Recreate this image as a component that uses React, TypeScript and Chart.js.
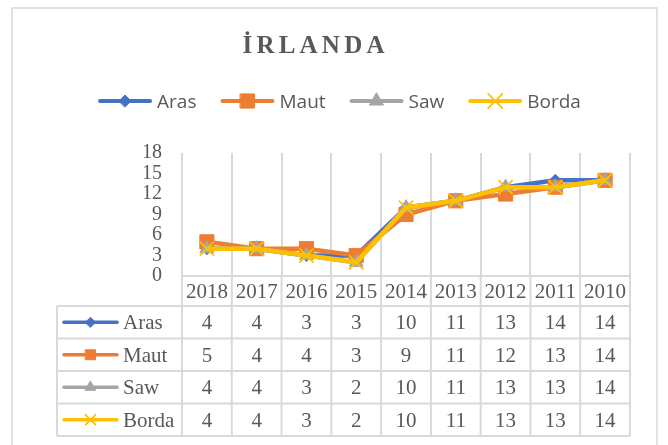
import React, { useEffect, useRef } from 'react';
import { Chart, registerables } from 'chart.js';
import { drawPoint } from 'chart.js/helpers';

Chart.register(...registerables);

const chartTitle = 'İRLANDA';
const years = ['2018', '2017', '2016', '2015', '2014', '2013', '2012', '2011', '2010'];
const seriesNames = ['Aras', 'Maut', 'Saw', 'Borda'];
const aras = [4, 4, 3, 3, 10, 11, 13, 14, 14];
const maut = [5, 4, 4, 3, 9, 11, 12, 13, 14];
const saw = [4, 4, 3, 2, 10, 11, 13, 13, 14];
const borda = [4, 4, 3, 2, 10, 11, 13, 13, 14];
const seriesValues = [aras, maut, saw, borda];
const yTicks = [0, 3, 6, 9, 12, 15, 18];

const colors = ['#4472C4', '#ED7D31', '#A5A5A5', '#FFC000'];
const pointStyles = ['rectRot', 'rect', 'triangle', 'crossRot'];
const plotRadius = [6, 10, 8, 10];
const legendRadius = [6, 10, 8, 10];
const tableRadius = [5, 7, 6, 7];

const TEXT = '#595959';
const GRID = '#D9D9D9';
const SERIF = '"Liberation Serif", "Times New Roman", serif';
const SANS = '"Open Sans", "Liberation Sans", sans-serif';

function marker(ctx: CanvasRenderingContext2D, i: number, r: number, x: number, y: number) {
  ctx.save();
  ctx.fillStyle = colors[i];
  ctx.strokeStyle = colors[i];
  ctx.lineWidth = pointStyles[i] === 'crossRot' ? 1.75 : 1;
  drawPoint(ctx, { pointStyle: pointStyles[i] as any, radius: r, rotation: 0, borderWidth: ctx.lineWidth } as any, x, y);
  ctx.restore();
}

const decorPlugin = {
  id: 'decor',
  beforeDraw(chart: any) {
    const ctx: CanvasRenderingContext2D = chart.ctx;
    ctx.save();
    ctx.fillStyle = '#FFFFFF';
    ctx.fillRect(0, 0, chart.width, chart.height);
    ctx.strokeStyle = GRID;
    ctx.lineWidth = 1.5;
    ctx.strokeRect(12, 8, 645, 460);
    ctx.restore();
  },
  afterDraw(chart: any) {
    const ctx: CanvasRenderingContext2D = chart.ctx;
    const area = chart.chartArea;
    const xs = chart.scales.x;
    ctx.save();

    // Title with letter spacing
    ctx.font = 'bold 25px ' + SERIF;
    ctx.fillStyle = TEXT;
    ctx.textBaseline = 'alphabetic';
    ctx.textAlign = 'left';
    const spacing = 4.2;
    const chars = Array.from(chartTitle);
    const widths = chars.map((c) => ctx.measureText(c).width);
    const total = widths.reduce((a, b) => a + b, 0) + spacing * (chars.length - 1);
    let tx = 313.5 - total / 2;
    chars.forEach((c, k) => {
      ctx.fillText(c, tx, 53);
      tx += widths[k] + spacing;
    });

    // Legend
    ctx.font = '19px ' + SANS;
    const keyLen = 54;
    const textGap = 5;
    const itemGap = 24;
    const tw = seriesNames.map((n) => ctx.measureText(n).width);
    const legendTotal = tw.reduce((a, b) => a + b, 0) + seriesNames.length * (keyLen + textGap) + itemGap * (seriesNames.length - 1);
    let lx = 339.5 - legendTotal / 2;
    const ly = 101;
    seriesNames.forEach((name, i) => {
      ctx.strokeStyle = colors[i];
      ctx.lineWidth = 4;
      ctx.lineCap = 'round';
      ctx.beginPath();
      ctx.moveTo(lx + 2, ly);
      ctx.lineTo(lx + keyLen - 2, ly);
      ctx.stroke();
      marker(ctx, i, legendRadius[i], lx + keyLen / 2, ly);
      ctx.fillStyle = TEXT;
      ctx.fillText(name, lx + keyLen + textGap, 108);
      lx += keyLen + textGap + tw[i] + itemGap;
    });

    // Data table
    const left = area.left;
    const right = area.right;
    const n = years.length;
    const colW = (right - left) / n;
    const headerTop = area.bottom;
    const headerBottom = headerTop + 30;
    const rowH = 32.5;
    const tableLeft = 57;
    const tableBottom = headerBottom + rowH * seriesNames.length;

    ctx.strokeStyle = GRID;
    ctx.lineWidth = 2;
    ctx.lineCap = 'butt';
    ctx.beginPath();
    ctx.moveTo(left, headerTop);
    ctx.lineTo(right, headerTop);
    for (let r = 0; r <= seriesNames.length; r++) {
      const y = headerBottom + r * rowH;
      ctx.moveTo(tableLeft, y);
      ctx.lineTo(right, y);
    }
    for (let c = 0; c <= n; c++) {
      const x = left + c * colW;
      ctx.moveTo(x, headerTop);
      ctx.lineTo(x, tableBottom);
    }
    ctx.moveTo(tableLeft, headerBottom);
    ctx.lineTo(tableLeft, tableBottom);
    ctx.stroke();

    ctx.font = '21px ' + SERIF;
    ctx.fillStyle = TEXT;
    ctx.textBaseline = 'alphabetic';
    ctx.textAlign = 'center';
    years.forEach((yr, c) => {
      ctx.fillText(yr, xs.getPixelForValue(c), headerTop + 21.5);
    });

    seriesNames.forEach((name, i) => {
      const cy = headerBottom + rowH * i + rowH / 2;
      ctx.strokeStyle = colors[i];
      ctx.lineWidth = 3.5;
      ctx.lineCap = 'round';
      ctx.beginPath();
      ctx.moveTo(64, cy);
      ctx.lineTo(117, cy);
      ctx.stroke();
      marker(ctx, i, tableRadius[i], 90.5, cy);
      ctx.fillStyle = TEXT;
      ctx.textAlign = 'left';
      ctx.fillText(name, 123, cy + 7);
      ctx.textAlign = 'center';
      seriesValues[i].forEach((v, c) => {
        ctx.fillText(String(v), xs.getPixelForValue(c), cy + 7);
      });
    });

    ctx.restore();
  },
};

export default function App() {
  const canvasRef = useRef<HTMLCanvasElement | null>(null);

  useEffect(() => {
    const canvas = canvasRef.current;
    if (!canvas) return;
    const order = [3, 2, 1, 0];
    const chart = new Chart(canvas, {
      type: 'line',
      data: {
        labels: years,
        datasets: seriesNames.map((name, i) => ({
          label: name,
          data: seriesValues[i],
          borderColor: colors[i],
          backgroundColor: colors[i],
          borderWidth: 4.5,
          tension: 0,
          order: order[i],
          pointStyle: pointStyles[i] as any,
          pointRadius: plotRadius[i],
          pointHoverRadius: plotRadius[i],
          pointBackgroundColor: colors[i],
          pointBorderColor: colors[i],
          pointBorderWidth: pointStyles[i] === 'crossRot' ? 1.75 : 1,
          clip: false as any,
        })),
      },
      options: {
        responsive: false,
        animation: false,
        devicePixelRatio: 1,
        events: [],
        layout: { padding: { top: 153, bottom: 169, left: 0, right: 38 } },
        plugins: {
          legend: { display: false },
          title: { display: false },
          tooltip: { enabled: false },
        },
        scales: {
          x: {
            type: 'category',
            offset: true,
            grid: { display: true, offset: true, color: GRID, lineWidth: 2, drawTicks: false },
            border: { display: false },
            ticks: { display: false },
            afterFit: (s: any) => { s.height = 0; },
          },
          y: {
            min: 0,
            max: 18,
            grid: { display: false, drawTicks: false },
            border: { display: false },
            afterBuildTicks: (s: any) => { s.ticks = yTicks.map((v) => ({ value: v })); },
            afterFit: (s: any) => { s.width = 182; },
            ticks: {
              autoSkip: false,
              padding: 20,
              color: TEXT,
              font: { family: SERIF, size: 20 },
            },
          },
        },
      },
      plugins: [decorPlugin],
    });
    return () => chart.destroy();
  }, []);

  return (
    <div style={{ position: 'absolute', left: 0, top: 0, width: 668, height: 445 }}>
      <canvas ref={canvasRef} width={668} height={445} style={{ display: 'block', width: 668, height: 445 }} />
    </div>
  );
}
